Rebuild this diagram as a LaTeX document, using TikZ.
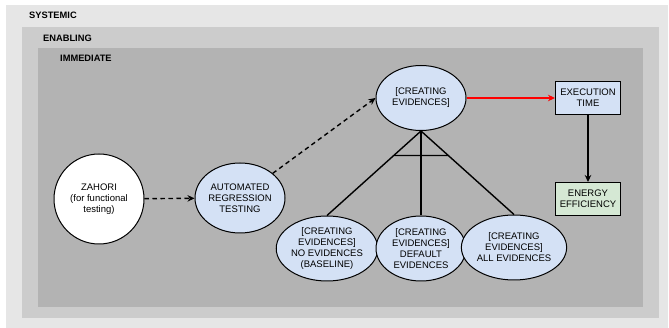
\documentclass[tikz,border=0pt]{standalone}
\usepackage{fontspec}
\setmainfont{Liberation Sans}
\usetikzlibrary{shapes.geometric,arrows.meta,calc}
\definecolor{sysgray}{HTML}{E6E6E6}
\definecolor{enagray}{HTML}{CCCCCC}
\definecolor{immgray}{HTML}{B3B3B3}
\definecolor{evblue}{HTML}{D4E1F5}
\definecolor{engreen}{HTML}{D5E8D4}
\begin{document}
\begin{tikzpicture}[x=1pt,y=-1pt,
  every node/.style={font=\fontsize{9.5}{11}\selectfont},
  ell/.style={ellipse, draw, line width=1pt, fill=evblue, minimum width=90pt, minimum height=65pt, inner sep=0pt, align=center},
  rbox/.style={rectangle, draw, line width=1pt, minimum width=65pt, minimum height=33pt, inner sep=0pt, align=center},
  lbl/.style={font=\fontsize{9.3}{11}\selectfont\bfseries, anchor=base west, inner sep=0pt},
  conn/.style={line width=1.4pt},
  tip/.style={-{Stealth[length=7pt,width=6.5pt]}},
  dash2/.style={dash pattern=on 4.5pt off 3.5pt}]
\useasboundingbox (0,0) rectangle (669,328);
\fill[white] (0,0) rectangle (669,328);
\fill[sysgray] (6,5) rectangle (668,328);
\fill[enagray] (22,27) rectangle (659,318);
\fill[immgray] (38,48) rectangle (643,307);
\node[lbl] (lsys) at (29,18.5) {SYSTEMIC};
\node[lbl] (lena) at (43,41.3) {ENABLING};
\node[lbl] (limm) at (60,61.7) {IMMEDIATE};

\node[circle, draw, line width=1pt, fill=white, minimum size=90pt, inner sep=0pt, align=center] (zah) at (99,199) {ZAHORI\\(for functional\\testing)};
\node[ell, minimum height=70pt] (art) at (240,198) {AUTOMATED\\REGRESSION\\TESTING};
\node[ell] (ce) at (421,98) {[CREATING\\EVIDENCES]};
\node[rbox, fill=evblue] (ex) at (588,98) {EXECUTION\\TIME};
\node[rbox, fill=engreen] (en) at (588,199) {ENERGY\\EFFICIENCY};
\node[ell] (b1) at (327,248.5) {[CREATING\\EVIDENCES]\\NO EVIDENCES\\(BASELINE)};
\node[ell] (b2) at (421,248.5) {[CREATING\\EVIDENCES]\\DEFAULT\\EVIDENCES};
\node[ell] (b3) at (514,247.5) {[CREATING\\EVIDENCES]\\ALL EVIDENCES};

\draw[conn, dash2, tip] (zah) -- (art);
\draw[conn, dash2, tip] (art.37) -- (ce.west);
\draw[conn, red, tip] (ce) -- (ex);
\draw[conn, tip] (ex) -- (en);
\draw[conn] (ce.south) -- (b1.north);
\draw[conn] (ce.south) -- (b2.north);
\draw[conn] (ce.south) -- (b3.north);
\coordinate (hl) at (300,155.5);
\coordinate (hr) at (540,155.5);
\coordinate (cl) at (intersection of ce.south--b1.north and hl--hr);
\coordinate (cr) at (intersection of ce.south--b3.north and hl--hr);
\draw[conn] (cl) -- (cr);
\end{tikzpicture}
\end{document}
